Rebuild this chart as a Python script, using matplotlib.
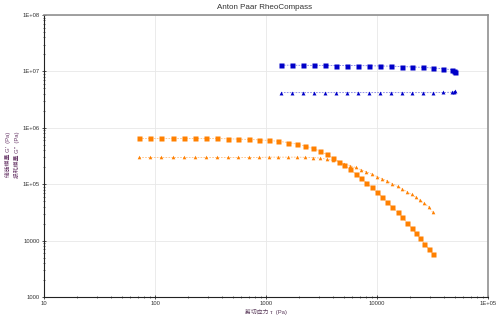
import matplotlib
matplotlib.use('Agg')
import matplotlib.pyplot as plt
from matplotlib.ticker import LogLocator, FixedLocator, NullFormatter

plt.rcParams['font.family'] = ['Liberation Sans', 'Noto Sans CJK SC', 'DejaVu Sans']

# Sample 1 (blue): shear stress (Pa), G' and G'' (Pa)
stress_blue = [1365, 1715, 2154, 2707, 3400, 4272, 5366, 6742, 8470, 10640,
               13370, 16690, 20670, 25700, 31760, 39080, 47390, 49600, 50900]
gp_blue = [1.29e7, 1.29e7, 1.28e7, 1.28e7, 1.28e7, 1.27e7, 1.27e7, 1.27e7, 1.26e7, 1.25e7,
           1.24e7, 1.22e7, 1.20e7, 1.18e7, 1.15e7, 1.12e7, 1.07e7, 1.02e7, 0.99e7]
gpp_blue = [4.21e6, 4.21e6, 4.21e6, 4.21e6, 4.21e6, 4.21e6, 4.21e6, 4.21e6, 4.21e6, 4.21e6,
            4.21e6, 4.21e6, 4.21e6, 4.21e6, 4.21e6, 4.23e6, 4.28e6, 4.35e6, 4.45e6]

# Sample 2 (orange)
stress_orange = [72.2, 90.7, 114, 144.4, 181.4, 227.9, 286.2, 359.6, 451.9, 563,
                 698.6, 859.6, 1057.5, 1290.6, 1568.7, 1890, 2260, 2668, 3085, 3523,
                 4039, 4575, 5095, 5712, 6402, 7177, 8010, 8961, 10000, 11160,
                 12380, 13790, 15300, 16970, 18640, 20460, 22460, 24400, 26680, 29230, 31760]
gp_orange = [6.47e5, 6.47e5, 6.47e5, 6.47e5, 6.47e5, 6.47e5, 6.47e5, 6.47e5, 6.39e5, 6.31e5,
             6.21e5, 6.13e5, 5.96e5, 5.77e5, 5.49e5, 5.15e5, 4.74e5, 4.30e5, 3.84e5, 3.37e5,
             2.91e5, 2.50e5, 2.19e5, 1.84e5, 1.53e5, 1.29e5, 1.06e5, 8.78e4, 7.22e4, 5.94e4,
             4.80e4, 3.89e4, 3.19e4, 2.58e4, 2.08e4, 1.68e4, 1.35e4, 1.10e4, 8850, 7130, 5890]
gpp_orange = [2.98e5, 2.98e5, 2.98e5, 2.98e5, 2.98e5, 2.98e5, 2.98e5, 2.98e5, 2.98e5, 2.98e5,
              2.98e5, 2.98e5, 3.02e5, 3.02e5, 3.02e5, 3.02e5, 3.00e5, 2.97e5, 2.91e5, 2.77e5,
              2.64e5, 2.47e5, 2.31e5, 2.14e5, 1.98e5, 1.81e5, 1.66e5, 1.52e5, 1.37e5, 1.25e5,
              1.14e5, 1.02e5, 9.14e4, 8.22e4, 7.37e4, 6.60e4, 5.84e4, 5.17e4, 4.57e4, 4.00e4, 3.17e4]

x_ticks = [10, 100, 1000, 10000, 100000]
x_ticklabels = ['10', '100', '1000', '10000', '1E+05']
y_ticks = [1000, 10000, 1e5, 1e6, 1e7, 1e8]
y_ticklabels = ['1000', '10000', '1E+05', '1E+06', '1E+07', '1E+08']

blue = '#0000C8'
orange = '#FF8000'

fig = plt.figure(figsize=(5, 3.16), dpi=100)
ax = fig.add_axes([0.088, 0.06, 0.888, 0.8925])

# dashed connecting lines, then the markers on top
dash = (0, (2, 1.5))
ax.plot(stress_blue, gp_blue, color=blue, ls=dash, lw=0.6, alpha=0.5)
ax.plot(stress_blue, gp_blue, 's', color=blue, ms=3.6, mec='none')
ax.plot(stress_blue, gpp_blue, color=blue, ls=dash, lw=0.6, alpha=0.5)
ax.plot(stress_blue, gpp_blue, '^', color=blue, ms=2.8, mec='none')
ax.plot(stress_orange, gp_orange, color=orange, ls=dash, lw=0.6, alpha=0.5)
ax.plot(stress_orange, gp_orange, 's', color=orange, ms=3.6, mec='none')
ax.plot(stress_orange, gpp_orange, color=orange, ls=dash, lw=0.6, alpha=0.5)
ax.plot(stress_orange, gpp_orange, '^', color=orange, ms=2.6, mec='none')

ax.set_xscale('log')
ax.set_yscale('log')
ax.set_xlim(10, 1e5)
ax.set_ylim(1000, 1e8)

ax.xaxis.set_major_locator(FixedLocator(x_ticks))
ax.set_xticklabels(x_ticklabels)
ax.yaxis.set_major_locator(FixedLocator(y_ticks))
ax.set_yticklabels(y_ticklabels)
ax.xaxis.set_minor_locator(LogLocator(base=10, subs=range(2, 10)))
ax.yaxis.set_minor_locator(LogLocator(base=10, subs=range(2, 10)))
ax.xaxis.set_minor_formatter(NullFormatter())
ax.yaxis.set_minor_formatter(NullFormatter())

ax.tick_params(which='major', direction='inout', length=3, width=0.6,
               labelsize=4.2, pad=1.5, colors='#333333')
ax.tick_params(which='minor', direction='inout', length=2, width=0.5, color='#333333')
ax.tick_params(top=False, right=False, which='both')

ax.grid(True, which='major', color='#e8e8e8', lw=0.6)
ax.set_axisbelow(True)

for side in ['left', 'bottom']:
    ax.spines[side].set_color('#222222')
    ax.spines[side].set_linewidth(0.8)
for side in ['top', 'right']:
    ax.spines[side].set_color('#909090')
    ax.spines[side].set_linewidth(1.2)

fig.text(0.53, 0.988, 'Anton Paar RheoCompass', ha='center', va='top',
         fontsize=5.8, color='#333333')
ax.set_xlabel('剪切应力 τ  (Pa)', fontsize=4.2, color='#5a3a5a', labelpad=2)
fig.text(0.016, 0.51, "储能模量 G'  (Pa)", rotation=90, ha='center', va='center',
         fontsize=4.2, color='#6a3a6a')
fig.text(0.034, 0.51, "损耗模量 G''  (Pa)", rotation=90, ha='center', va='center',
         fontsize=4.2, color='#6a3a6a')

fig.savefig('out.png', dpi=100)
